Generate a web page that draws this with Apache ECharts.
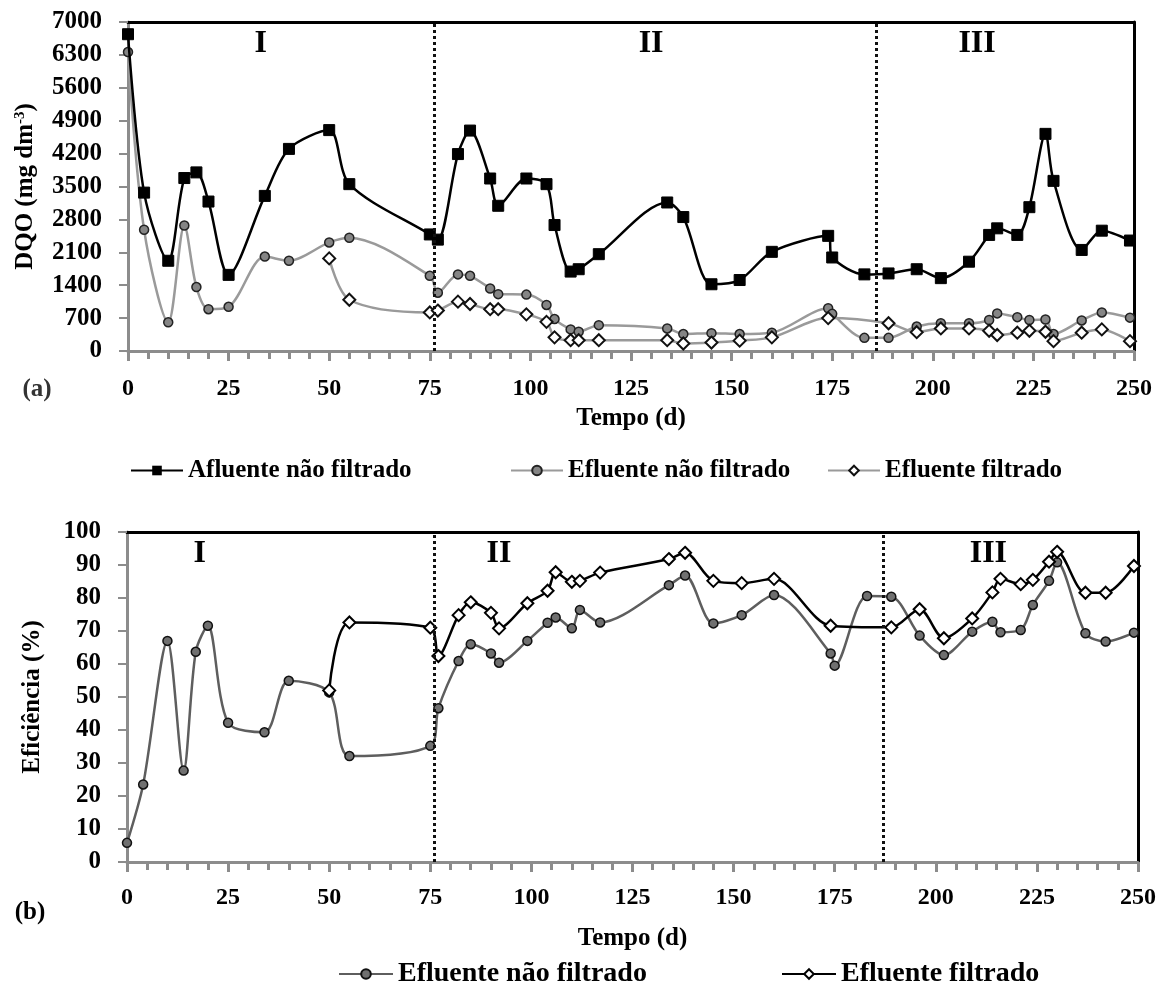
<!DOCTYPE html>
<html>
<head>
<meta charset="utf-8">
<script src="https://cdn.jsdelivr.net/npm/echarts@6/dist/echarts.min.js"></script>
<style>
  html, body { margin: 0; padding: 0; background: #fff; }
  #chart { width: 1168px; height: 987px; }
</style>
</head>
<body>
<div id="chart"></div>
<script>
// Sampling days (d) for the unfiltered influent / effluent series
const days = [0, 4, 10, 14, 17, 20, 25, 34, 40, 50, 55, 75, 77, 82, 85, 90, 92, 99, 104, 106, 110, 112, 117,
  134, 138, 145, 152, 160, 174, 175, 183, 189, 196, 202, 209, 214, 216, 221, 224, 228, 230, 237, 242, 249];
// Sampling days for the filtered effluent
const daysFiltered = [50, 55, 75, 77, 82, 85, 90, 92, 99, 104, 106, 110, 112, 117, 134, 138, 145, 152, 160,
  174, 189, 196, 202, 209, 214, 216, 221, 224, 228, 230, 237, 242, 249];

// DQO (mg dm-3)
const dqoAfluente = [6740, 3370, 1920, 3680, 3800, 3180, 1620, 3300, 4300, 4700, 3550, 2480, 2370, 4190, 4690,
  3670, 3090, 3670, 3550, 2680, 1690, 1740, 2060, 3160, 2850, 1420, 1510, 2110, 2450, 1990, 1630, 1650, 1740,
  1550, 1900, 2470, 2610, 2470, 3060, 4620, 3620, 2150, 2560, 2350];
const dqoEfluente = [6360, 2580, 610, 2670, 1360, 890, 940, 2010, 1920, 2310, 2410, 1600, 1240, 1630, 1600,
  1330, 1210, 1200, 980, 680, 460, 410, 550, 480, 360, 380, 360, 390, 910, 790, 280, 280, 520, 590, 590, 660,
  800, 720, 660, 670, 360, 650, 820, 710];
const dqoFiltrado = [1970, 1090, 820, 860, 1050, 1000, 890, 890, 780, 620, 290, 230, 230, 230, 230, 160, 180,
  220, 290, 700, 590, 400, 480, 480, 430, 340, 390, 430, 410, 210, 390, 460, 210];

// Removal efficiency (%)
const efEfluente = [5.8, 23.5, 67, 27.7, 63.7, 71.6, 42.2, 39.3, 54.9, 51.4, 32.1, 35.2, 46.6, 60.9, 66, 63.2,
  60.4, 67, 72.5, 74.1, 70.8, 76.4, 72.6, 83.9, 86.8, 72.3, 74.8, 80.9, 63.2, 59.5, 80.6, 80.4, 68.6, 62.7,
  69.8, 72.8, 69.6, 70.3, 77.9, 85.2, 90.8, 69.3, 66.8, 69.5];
const efFiltrado = [52, 72.6, 71, 62.4, 74.8, 78.7, 75.5, 70.8, 78.4, 82.2, 87.8, 84.9, 85.2, 87.7, 91.8, 93.7,
  85.2, 84.5, 85.8, 71.6, 71.1, 76.6, 67.8, 73.8, 81.7, 85.8, 84.2, 85.5, 91, 94, 81.6, 81.6, 89.7];

// Operational phase boundaries (d) and phase labels
const phaseBoundsTop = [76, 186];
const phaseBoundsBottom = [76, 187];
const phaseNames = ['I', 'II', 'III'];
const phaseLabelTop = [[33, 6530], [130, 6530], [211, 6530]];
const phaseLabelBottom = [[18, 93.3], [92, 93.3], [213, 93.3]];

const xTicks = { min: 0, max: 250, interval: 25 };
const dqoTicks = { min: 0, max: 7000, interval: 700 };
const efTicks = { min: 0, max: 100, interval: 10 };

const names = ['Afluente não filtrado', 'Efluente não filtrado', 'Efluente filtrado'];
// bottom panel series keep their own legend entries
const namesEf = ['Efluente não filtrado ', 'Efluente filtrado '];

const zip = (xs, ys) => xs.map((x, i) => [x, ys[i]]);
const SERIF = '"Liberation Serif", "Times New Roman", serif';
const GRAY_AXIS = '#8c8c8c';
const plain = v => String(v);

function xAxisFor(gi, labelMargin) {
  return [{
    type: 'value', gridIndex: gi, position: 'bottom',
    min: xTicks.min, max: xTicks.max, interval: xTicks.interval,
    name: 'Tempo (d)', nameLocation: 'middle', nameGap: gi === 0 ? 55 : 64,
    nameTextStyle: { fontFamily: SERIF, fontWeight: 'bold', fontSize: 25, color: '#000' },
    axisLine: { show: true, onZero: false, lineStyle: { color: GRAY_AXIS, width: 3 } },
    axisTick: { show: true, length: 10, lineStyle: { color: GRAY_AXIS, width: 3 } },
    minorTick: { show: true, splitNumber: 5, length: 8, lineStyle: { color: GRAY_AXIS, width: 3 } },
    axisLabel: { margin: labelMargin, formatter: plain, fontFamily: SERIF, fontWeight: 'bold', fontSize: 24, color: '#000' },
    splitLine: { show: false }
  }, {
    type: 'value', gridIndex: gi, position: 'top',
    min: xTicks.min, max: xTicks.max,
    axisLine: { show: true, onZero: false, lineStyle: { color: '#000', width: 3 } },
    axisTick: { show: false }, axisLabel: { show: false }, splitLine: { show: false }
  }];
}

function yAxisFor(gi, ticks, name, gap, rich) {
  return [{
    type: 'value', gridIndex: gi, position: 'left',
    min: ticks.min, max: ticks.max, interval: ticks.interval,
    name: name, nameLocation: 'middle', nameRotate: 90, nameGap: gap,
    nameTextStyle: { fontFamily: SERIF, fontWeight: 'bold', fontSize: 25, color: '#000', rich: rich },
    axisLine: { show: true, onZero: false, lineStyle: { color: GRAY_AXIS, width: 3 } },
    axisTick: { show: true, length: 9, lineStyle: { color: GRAY_AXIS, width: 2 } },
    axisLabel: { margin: 26, formatter: plain, fontFamily: SERIF, fontWeight: 'bold', fontSize: 25, color: '#000' },
    splitLine: { show: false }
  }, {
    type: 'value', gridIndex: gi, position: 'right',
    min: ticks.min, max: ticks.max,
    axisLine: { show: true, onZero: false, lineStyle: { color: '#000', width: 3 } },
    axisTick: { show: false }, axisLabel: { show: false }, splitLine: { show: false }
  }];
}

function phaseMarkLine(bounds) {
  return {
    silent: true, symbol: 'none', label: { show: false },
    lineStyle: { color: '#111', type: [3, 3], width: 3 },
    data: bounds.map(d => ({ xAxis: d }))
  };
}

function legendAt(left, top, name, fontSize, w) {
  return {
    left: left, top: top, itemWidth: w, itemHeight: 12, itemGap: 6,
    textStyle: { fontFamily: SERIF, fontWeight: 'bold', fontSize: fontSize, color: '#000' },
    selectedMode: false, data: [name]
  };
}

const chart = echarts.init(document.getElementById('chart'), null, { renderer: 'canvas' });

const option = {
  animation: false,
  backgroundColor: '#fff',
  grid: [
    { left: 128, top: 22, width: 1006, height: 329 },
    { left: 127, top: 532, width: 1011, height: 330 }
  ],
  xAxis: [...xAxisFor(0, 26), ...xAxisFor(1, 24)],
  yAxis: [
    ...yAxisFor(0, dqoTicks, 'DQO (mg dm{sup|-3})', 90, { sup: { fontFamily: SERIF, fontWeight: 'bold', fontSize: 15, verticalAlign: 'top', padding: [0, 0, 10, 0] } }),
    ...yAxisFor(1, efTicks, 'Eficiência (%)', 82)
  ],
  legend: [
    legendAt(125, 453, names[0], 25, 52),
    legendAt(505, 453, names[1], 25, 52),
    legendAt(822, 453, names[2], 25, 52),
    legendAt(333, 955, namesEf[0], 28, 54),
    legendAt(776, 955, namesEf[1], 28, 54)
  ],
  series: [
    {
      name: names[0], type: 'line', xAxisIndex: 0, yAxisIndex: 0, smooth: 0.3,
      data: zip(days, dqoAfluente),
      symbol: 'rect', symbolSize: 11,
      lineStyle: { color: '#000', width: 2.5 },
      itemStyle: { color: '#000', borderColor: '#000' }, z: 4,
      markLine: phaseMarkLine(phaseBoundsTop)
    },
    {
      name: names[1], type: 'line', xAxisIndex: 0, yAxisIndex: 0, smooth: 0.3,
      data: zip(days, dqoEfluente),
      symbol: 'circle', symbolSize: 9,
      lineStyle: { color: '#9a9a9a', width: 2.5 },
      itemStyle: { color: '#858585', borderColor: '#222', borderWidth: 1.5 }, z: 3
    },
    {
      name: names[2], type: 'line', xAxisIndex: 0, yAxisIndex: 0, smooth: 0.3,
      data: zip(daysFiltered, dqoFiltrado),
      symbol: 'diamond', symbolSize: 12,
      lineStyle: { color: '#9a9a9a', width: 2.5 },
      itemStyle: { color: '#fff', borderColor: '#111', borderWidth: 2 }, z: 3
    },
    {
      name: namesEf[0], type: 'line', xAxisIndex: 2, yAxisIndex: 2, smooth: 0.3,
      data: zip(days, efEfluente),
      symbol: 'circle', symbolSize: 9,
      lineStyle: { color: '#5e5e5e', width: 2.5 },
      itemStyle: { color: '#707070', borderColor: '#111', borderWidth: 1.5 }, z: 3,
      markLine: phaseMarkLine(phaseBoundsBottom)
    },
    {
      name: namesEf[1], type: 'line', xAxisIndex: 2, yAxisIndex: 2, smooth: 0.3,
      data: zip(daysFiltered, efFiltrado),
      symbol: 'diamond', symbolSize: 12,
      lineStyle: { color: '#000', width: 2.5 },
      itemStyle: { color: '#fff', borderColor: '#000', borderWidth: 2 }, z: 4
    }
  ]
};
chart.setOption(option);

// Phase labels and panel letters
const phaseFont = { fontFamily: SERIF, fontWeight: 'bold', fontSize: 32, fill: '#000', textAlign: 'center', textVerticalAlign: 'middle' };
const graphics = [];
phaseNames.forEach((t, i) => {
  const p1 = chart.convertToPixel({ gridIndex: 0 }, phaseLabelTop[i]);
  graphics.push({ type: 'text', x: p1[0], y: p1[1], style: Object.assign({ text: t }, phaseFont) });
  const p2 = chart.convertToPixel({ gridIndex: 1 }, phaseLabelBottom[i]);
  graphics.push({ type: 'text', x: p2[0], y: p2[1], style: Object.assign({ text: t }, phaseFont) });
});
const panelFont = { fontFamily: SERIF, fontWeight: 'bold', fontSize: 25, textAlign: 'center', textVerticalAlign: 'middle' };
graphics.push({ type: 'text', x: 37, y: 390, style: Object.assign({ text: '(a)', fill: '#333' }, panelFont) });
graphics.push({ type: 'text', x: 30, y: 913, style: Object.assign({ text: '(b)', fill: '#000' }, panelFont) });
chart.setOption({ graphic: graphics });
</script>
</body>
</html>
